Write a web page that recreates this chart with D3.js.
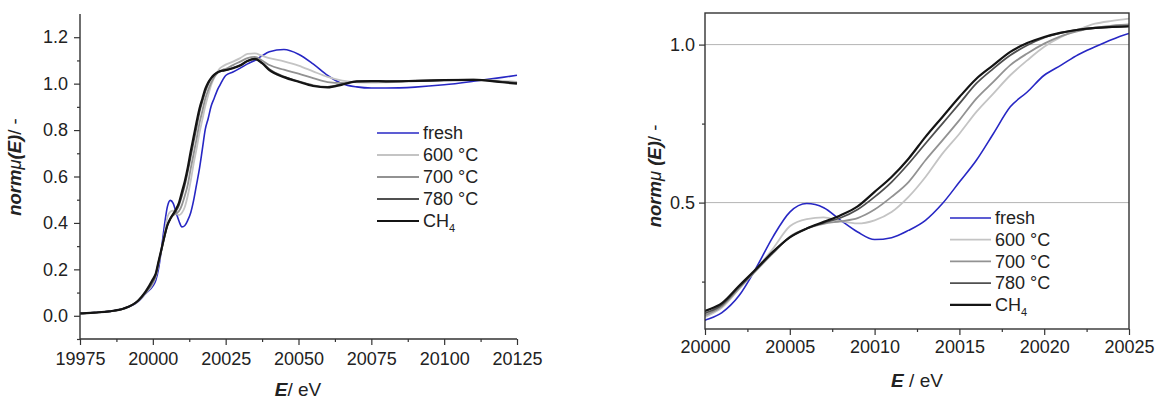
<!DOCTYPE html>
<html>
<head>
<meta charset="utf-8">
<script src="https://cdn.jsdelivr.net/npm/d3@7"></script>
<style>
  body { margin: 0; background: #fff; }
  svg { font-family: "Liberation Sans", Arial, sans-serif; }
</style>
</head>
<body>
<div id="plot"></div>
<script>
// energies (eV) shared by all series
var energy = [19975, 19980, 19985, 19990, 19995, 19997.5,
  20000, 20001, 20002, 20003, 20004, 20005, 20006, 20007, 20008, 20009,
  20010, 20011, 20012, 20013, 20014, 20015, 20016, 20017, 20018, 20019,
  20020, 20021, 20022, 20023, 20024, 20025,
  20027.5, 20030, 20032.5, 20035, 20037.5, 20040, 20045, 20050, 20055,
  20060, 20065, 20070, 20075, 20080, 20090, 20100, 20110, 20120, 20125];

var fresh = [0.010, 0.014, 0.019, 0.031, 0.062, 0.095,
  0.128, 0.152, 0.205, 0.292, 0.391, 0.470, 0.497, 0.484, 0.444, 0.407,
  0.383, 0.389, 0.412, 0.444, 0.497, 0.565, 0.634, 0.718, 0.803, 0.850,
  0.903, 0.935, 0.968, 0.993, 1.016, 1.035,
  1.050, 1.067, 1.085, 1.100, 1.120, 1.137, 1.147, 1.127, 1.085,
  1.035, 1.000, 0.986, 0.981, 0.981, 0.985, 0.995, 1.010, 1.027, 1.036];

var t600 = [0.010, 0.014, 0.019, 0.031, 0.063, 0.097,
  0.138, 0.168, 0.226, 0.288, 0.354, 0.425, 0.448, 0.453, 0.441, 0.434,
  0.444, 0.470, 0.518, 0.581, 0.655, 0.718, 0.787, 0.845, 0.903, 0.950,
  0.993, 1.024, 1.047, 1.066, 1.075, 1.082,
  1.095, 1.110, 1.128, 1.130, 1.120, 1.110, 1.096, 1.078, 1.053,
  1.029, 1.013, 1.006, 1.005, 1.006, 1.010, 1.014, 1.016, 1.012, 1.008];

var t700 = [0.010, 0.014, 0.019, 0.031, 0.064, 0.099,
  0.143, 0.172, 0.228, 0.284, 0.339, 0.392, 0.418, 0.433, 0.441, 0.451,
  0.478, 0.518, 0.565, 0.634, 0.697, 0.761, 0.829, 0.882, 0.935, 0.972,
  1.003, 1.027, 1.043, 1.054, 1.060, 1.064,
  1.080, 1.095, 1.110, 1.115, 1.100, 1.080, 1.060, 1.043, 1.024,
  1.007, 1.003, 1.008, 1.009, 1.009, 1.012, 1.015, 1.016, 1.008, 1.004];

var t780 = [0.010, 0.014, 0.019, 0.031, 0.065, 0.101,
  0.149, 0.177, 0.233, 0.287, 0.342, 0.390, 0.418, 0.436, 0.452, 0.478,
  0.518, 0.565, 0.623, 0.687, 0.750, 0.813, 0.877, 0.924, 0.966, 0.998,
  1.022, 1.037, 1.047, 1.052, 1.056, 1.058,
  1.068, 1.080, 1.098, 1.106, 1.090, 1.062, 1.030, 1.010, 0.993,
  0.986, 0.998, 1.010, 1.011, 1.010, 1.012, 1.015, 1.017, 1.008, 1.002];

var ch4 = [0.010, 0.014, 0.019, 0.031, 0.066, 0.104,
  0.157, 0.182, 0.236, 0.289, 0.344, 0.390, 0.418, 0.439, 0.460, 0.488,
  0.534, 0.581, 0.639, 0.708, 0.771, 0.834, 0.892, 0.935, 0.977, 1.005,
  1.024, 1.038, 1.047, 1.053, 1.056, 1.058,
  1.066, 1.078, 1.098, 1.107, 1.088, 1.058, 1.028, 1.008, 0.990,
  0.984, 0.996, 1.010, 1.011, 1.010, 1.012, 1.015, 1.016, 1.006, 1.000];

var seriesNames = ["fresh", "600 °C", "700 °C", "780 °C", "CH4"];
var seriesValues = [fresh, t600, t700, t780, ch4];
var seriesColors = ["#2727c4", "#c4c4c4", "#929292", "#505050", "#141414"];
var seriesWidths = [1.6, 1.8, 1.8, 1.8, 2.2];

var leftXTicks = [19975, 20000, 20025, 20050, 20075, 20100, 20125];
var leftYTicks = [0.0, 0.2, 0.4, 0.6, 0.8, 1.0, 1.2];
var rightXTicks = [20000, 20005, 20010, 20015, 20020, 20025];
var rightYTicks = [0.5, 1.0];

var width = 1156, height = 399;
var fontSize = 18;
var axisColor = '#333';

var svg = d3.select('#plot').append('svg')
  .attr('width', width)
  .attr('height', height);

var table = energy.map(function (e, i) {
  var row = { e: e };
  seriesValues.forEach(function (s, k) { row[k] = s[i]; });
  return row;
});
var keys = seriesValues.map(function (s, k) { return k; });

function styleAxis(g) {
  g.select('.domain').remove();
  g.selectAll('.tick line').attr('stroke', axisColor).attr('stroke-width', 1.2);
  g.selectAll('.tick text').attr('font-size', fontSize).attr('fill', '#222')
    .attr('font-family', '"Liberation Sans", Arial, sans-serif');
}

function drawLines(xs, ys, clip) {
  var g = svg.append('g');
  if (clip) g.attr('clip-path', clip);
  g.selectAll('path').data(keys).enter().append('path')
    .attr('d', function (k) {
      return d3.line()
        .x(function (d) { return xs(d.e); })
        .y(function (d) { return ys(d[k]); })
        .curve(d3.curveMonotoneX)(table);
    })
    .attr('fill', 'none')
    .attr('stroke', function (k) { return seriesColors[k]; })
    .attr('stroke-width', function (k) { return seriesWidths[k]; });
}

// ---- left panel ----
var xL = d3.scaleLinear().domain([19975, 20125]).range([80, 517]);
var yL = d3.scaleLinear().domain([-0.1, 1.3]).range([339, 14]);

drawLines(xL, yL, null);

svg.append('g').attr('transform', 'translate(0,339)')
  .call(d3.axisBottom(xL).tickValues(d3.range(19987.5, 20125, 25)).tickSize(3).tickFormat(''))
  .call(styleAxis);
svg.append('g').attr('transform', 'translate(80,0)')
  .call(d3.axisLeft(yL).tickValues(d3.range(-0.1, 1.3, 0.2)).tickSize(3).tickFormat(''))
  .call(styleAxis);
svg.append('g').attr('transform', 'translate(0,339)')
  .call(d3.axisBottom(xL).tickValues(leftXTicks).tickSize(6).tickPadding(7).tickFormat(d3.format('d')))
  .call(styleAxis);
svg.append('g').attr('transform', 'translate(80,0)')
  .call(d3.axisLeft(yL).tickValues(leftYTicks).tickSize(6).tickPadding(6).tickFormat(d3.format('.1f')))
  .call(styleAxis);

// axis lines (left and bottom only)
svg.append('path')
  .attr('d', 'M' + xL.range()[0] + ',' + yL.range()[1] + 'V' + yL.range()[0] + 'H' + xL.range()[1])
  .attr('fill', 'none').attr('stroke', axisColor).attr('stroke-width', 1.4);

// ---- right panel ----
var xR = d3.scaleLinear().domain([20000, 20025]).range([705, 1129]);
var yR = d3.scaleLinear().domain([0.1, 1.1]).range([329, 13]);

svg.append('defs').append('clipPath').attr('id', 'clipR')
  .append('rect').attr('x', 705).attr('y', 13).attr('width', 424).attr('height', 316);

// grid lines
svg.append('g').selectAll('line').data(rightYTicks).enter().append('line')
  .attr('x1', xR.range()[0]).attr('x2', xR.range()[1])
  .attr('y1', function (d) { return yR(d); })
  .attr('y2', function (d) { return yR(d); })
  .attr('stroke', '#b4b4b4').attr('stroke-width', 1);

drawLines(xR, yR, 'url(#clipR)');

svg.append('g').attr('transform', 'translate(0,329)')
  .call(d3.axisBottom(xR).tickValues(d3.range(20002.5, 20025, 5)).tickSize(3).tickFormat(''))
  .call(styleAxis);
svg.append('g').attr('transform', 'translate(705,0)')
  .call(d3.axisLeft(yR).tickValues([0.25, 0.75]).tickSize(3).tickFormat(''))
  .call(styleAxis);
svg.append('g').attr('transform', 'translate(0,329)')
  .call(d3.axisBottom(xR).tickValues(rightXTicks).tickSize(6).tickPadding(5).tickFormat(d3.format('d')))
  .call(styleAxis);
svg.append('g').attr('transform', 'translate(705,0)')
  .call(d3.axisLeft(yR).tickValues(rightYTicks).tickSize(6).tickPadding(4).tickFormat(d3.format('.1f')))
  .call(styleAxis);

// frame
svg.append('rect')
  .attr('x', 705).attr('y', 13).attr('width', 424).attr('height', 316)
  .attr('fill', 'none').attr('stroke', axisColor).attr('stroke-width', 1.4);

// ---- legends ----
function legend(x0, lineLen, y0, dy) {
  var g = svg.append('g');
  seriesNames.forEach(function (name, k) {
    var y = y0 + k * dy;
    g.append('line')
      .attr('x1', x0).attr('x2', x0 + lineLen)
      .attr('y1', y).attr('y2', y)
      .attr('stroke', seriesColors[k]).attr('stroke-width', seriesWidths[k]);
    var t = g.append('text')
      .attr('x', x0 + lineLen + 4).attr('y', y)
      .attr('dy', '0.35em')
      .attr('font-size', fontSize).attr('fill', '#222');
    if (name === 'CH4') {
      t.append('tspan').text('CH');
      t.append('tspan').attr('font-size', 11).attr('dy', 5).text('4');
    } else {
      t.text(name);
    }
  });
}
legend(377, 42, 133, 22);
legend(950, 41, 218, 21.7);

// ---- axis titles ----
function yTitle(x, y, gap) {
  var t = svg.append('text')
    .attr('transform', 'translate(' + x + ',' + y + ') rotate(-90)')
    .attr('text-anchor', 'middle')
    .attr('font-size', 18.5).attr('fill', '#222');
  t.append('tspan').attr('font-weight', 'bold').attr('font-style', 'italic').text('norm');
  t.append('tspan').attr('font-style', 'italic').text('μ' + gap);
  t.append('tspan').attr('font-weight', 'bold').attr('font-style', 'italic').text('(E)');
  t.append('tspan').text('/ -');
}
yTitle(21, 167, '');
yTitle(661, 176, ' ');

function xTitle(x, y, sep) {
  var t = svg.append('text')
    .attr('x', x).attr('y', y)
    .attr('text-anchor', 'middle')
    .attr('font-size', 19).attr('fill', '#222');
  t.append('tspan').attr('font-weight', 'bold').attr('font-style', 'italic').text('E');
  t.append('tspan').text(sep + 'eV');
}
xTitle(298, 396, '/ ');
xTitle(917, 387, ' / ');
</script>
</body>
</html>
